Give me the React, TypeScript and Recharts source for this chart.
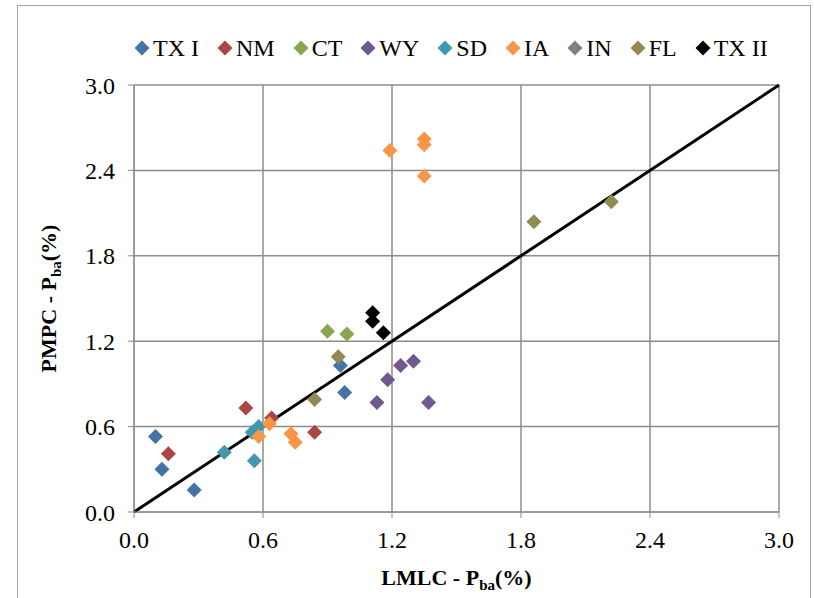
import React from 'react';
import { ScatterChart, Scatter, XAxis, YAxis, CartesianGrid, ReferenceLine } from 'recharts';

// LMLC (x) vs PMPC (y), Pba in %
const txI = [
  { x: 0.1, y: 0.53 },
  { x: 0.13, y: 0.3 },
  { x: 0.28, y: 0.155 },
  { x: 0.96, y: 1.03 },
  { x: 0.98, y: 0.84 },
];
const nm = [
  { x: 0.16, y: 0.41 },
  { x: 0.52, y: 0.73 },
  { x: 0.64, y: 0.66 },
  { x: 0.84, y: 0.56 },
];
const ct = [
  { x: 0.9, y: 1.27 },
  { x: 0.99, y: 1.25 },
];
const wy = [
  { x: 1.13, y: 0.77 },
  { x: 1.18, y: 0.93 },
  { x: 1.24, y: 1.03 },
  { x: 1.3, y: 1.06 },
  { x: 1.37, y: 0.77 },
];
const sd = [
  { x: 0.42, y: 0.42 },
  { x: 0.56, y: 0.36 },
  { x: 0.55, y: 0.56 },
  { x: 0.58, y: 0.6 },
];
const ia = [
  { x: 0.58, y: 0.53 },
  { x: 0.63, y: 0.62 },
  { x: 0.73, y: 0.55 },
  { x: 0.75, y: 0.49 },
  { x: 1.19, y: 2.54 },
  { x: 1.35, y: 2.62 },
  { x: 1.35, y: 2.58 },
  { x: 1.35, y: 2.36 },
];
const inSeries: { x: number; y: number }[] = [];
const fl = [
  { x: 0.84, y: 0.79 },
  { x: 0.95, y: 1.09 },
  { x: 1.86, y: 2.04 },
  { x: 2.22, y: 2.18 },
];
const txII = [
  { x: 1.11, y: 1.4 },
  { x: 1.11, y: 1.34 },
  { x: 1.16, y: 1.26 },
];

const equality = [{ x: 0, y: 0 }, { x: 3, y: 3 }];
const ticks = [0, 0.6, 1.2, 1.8, 2.4, 3.0];

const series = [
  { name: 'TX I', data: txI, color: '#4572A7' },
  { name: 'NM', data: nm, color: '#AA4643' },
  { name: 'CT', data: ct, color: '#89A54E' },
  { name: 'WY', data: wy, color: '#71588F' },
  { name: 'SD', data: sd, color: '#4198AF' },
  { name: 'IA', data: ia, color: '#F79646' },
  { name: 'IN', data: inSeries, color: '#808080' },
  { name: 'FL', data: fl, color: '#938953' },
  { name: 'TX II', data: txII, color: '#000000' },
];

const FONT = "'Liberation Serif', 'Times New Roman', serif";
const GRID = '#8c8c8c';

const Diamond = (props: any) => {
  const { cx, cy, fill } = props;
  if (cx == null || cy == null) return null;
  const r = 7.5;
  return <polygon points={`${cx},${cy - r} ${cx + r},${cy} ${cx},${cy + r} ${cx - r},${cy}`} fill={fill} />;
};

const LegendBox = () => (
  <div
    style={{
      position: 'absolute',
      left: 134,
      top: 34,
      display: 'flex',
      alignItems: 'center',
      gap: 18,
      fontFamily: FONT,
      fontSize: 24,
      lineHeight: '28px',
      color: '#000',
      whiteSpace: 'nowrap',
    }}
  >
    {series.map((s) => (
      <div key={s.name} style={{ display: 'flex', alignItems: 'center' }}>
        <svg width={16} height={16} style={{ marginRight: 3 }}>
          <polygon points="8,0.5 15.5,8 8,15.5 0.5,8" fill={s.color} />
        </svg>
        <span>{s.name}</span>
      </div>
    ))}
  </div>
);

const App = () => (
  <div style={{ position: 'absolute', left: 0, top: 0, width: 814, height: 598, background: '#fff', overflow: 'hidden', fontFamily: FONT }}>
    <div style={{ position: 'absolute', left: 17, top: 5, width: 792, height: 620, border: '1px solid #a6a6a6' }} />
    <LegendBox />
    <div style={{ position: 'absolute', left: 0, top: 0 }}>
      <ScatterChart width={814} height={598} margin={{ top: 85, right: 35, bottom: 16, left: 34 }} style={{ fontFamily: FONT }}>
        <CartesianGrid stroke={GRID} strokeWidth={1.5} horizontalValues={ticks} verticalValues={ticks} />
        <XAxis
          type="number"
          dataKey="x"
          domain={[0, 3]}
          ticks={ticks}
          tickFormatter={(v: number) => v.toFixed(1)}
          height={70}
          stroke={GRID}
          tickSize={6}
          tickMargin={13}
          tick={{ fontFamily: FONT, fontSize: 24, fill: '#000' }}
          label={{
            content: () => (
              <text x={456.5} y={585} textAnchor="middle" fontFamily={FONT} fontSize={22} fontWeight="bold" fill="#000">
                LMLC - P<tspan dy={5} fontSize={15}>ba</tspan><tspan dy={-5}>(%)</tspan>
              </text>
            ),
          }}
        />
        <YAxis
          type="number"
          dataKey="y"
          domain={[0, 3]}
          ticks={ticks}
          tickFormatter={(v: number) => v.toFixed(1)}
          width={100}
          stroke={GRID}
          tickSize={6}
          tickMargin={13}
          tick={{ fontFamily: FONT, fontSize: 24, fill: '#000' }}
          label={{
            content: () => (
              <text x={56} y={298.5} transform="rotate(-90, 56, 298.5)" textAnchor="middle" fontFamily={FONT} fontSize={22} fontWeight="bold" fill="#000">
                PMPC - P<tspan dy={5} fontSize={15}>ba</tspan><tspan dy={-5}>(%)</tspan>
              </text>
            ),
          }}
        />
        <ReferenceLine segment={equality} stroke="#000" strokeWidth={3} ifOverflow="visible" />
        {series.map((s) => (
          <Scatter key={s.name} name={s.name} data={s.data} fill={s.color} shape={<Diamond />} isAnimationActive={false} />
        ))}
      </ScatterChart>
    </div>
  </div>
);

export default App;
